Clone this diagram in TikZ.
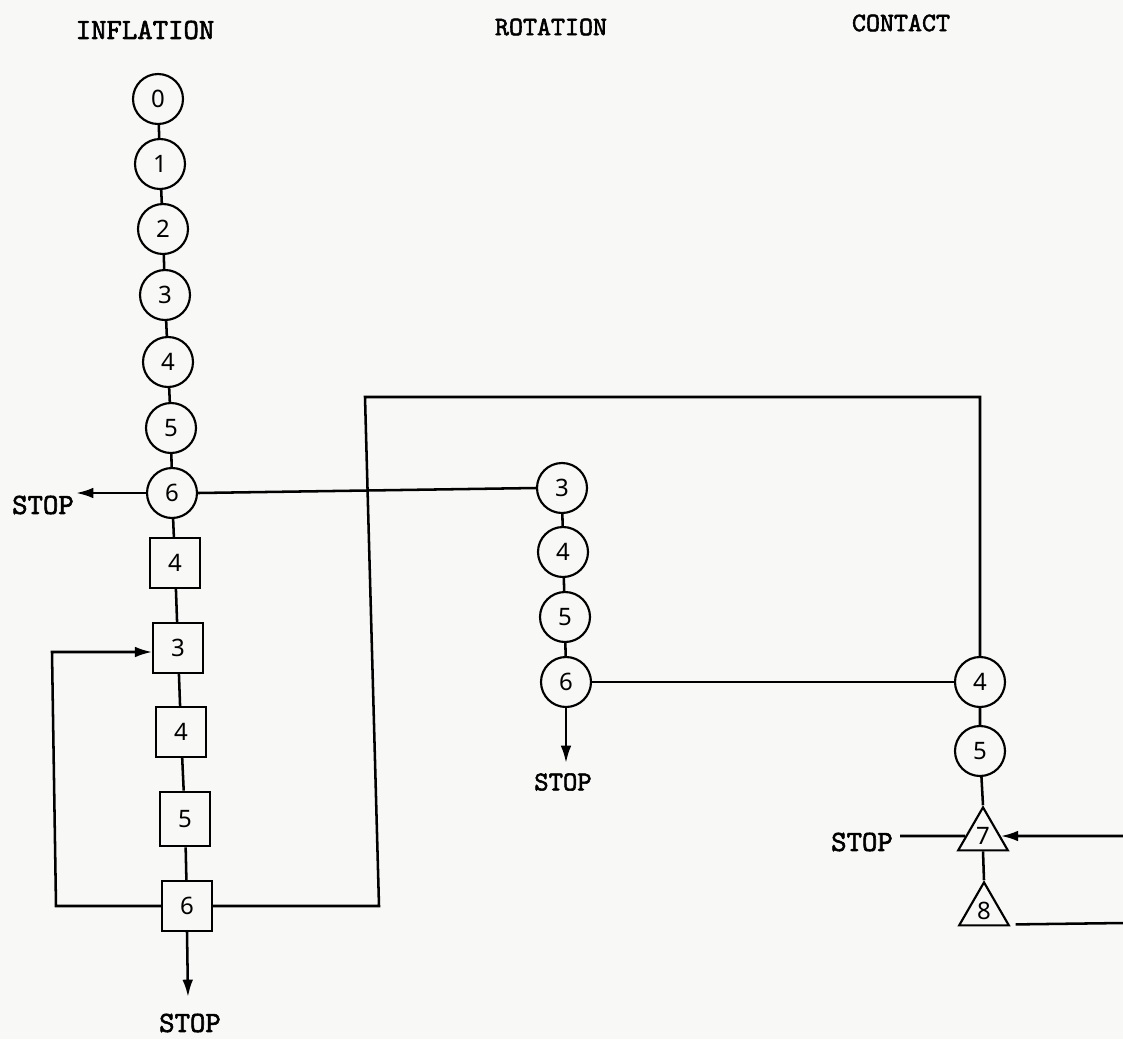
\documentclass[tikz,border=0pt]{standalone}
\usepackage{fontspec}
\newfontfamily\digitfont{Noto Sans}
\newfontfamily\twfont[FakeBold=2]{lmmono10-regular.otf}
\usetikzlibrary{arrows.meta,shapes.geometric}
\definecolor{paper}{RGB}{248,248,246}
\begin{document}
\begin{tikzpicture}[x=0.75pt,y=-0.75pt,
  ln/.style={line width=1.9pt},
  arr/.style={-{Latex[length=13pt,width=8pt]}},
  circ/.style={circle,draw,line width=1.6pt,minimum size=37.5pt,inner sep=0pt,
    font=\digitfont\fontsize{18}{18}\selectfont},
  sq/.style={rectangle,draw,line width=1.6pt,minimum width=37pt,minimum height=37.5pt,inner sep=0pt,
    font=\digitfont\fontsize{18}{18}\selectfont},
  tri/.style={regular polygon,regular polygon sides=3,draw,line width=1.6pt,minimum size=43pt,inner sep=0pt,
    font=\digitfont\fontsize{18}{18}\selectfont},
  lbl/.style={inner sep=0pt,font=\twfont\fontsize{22}{22}\selectfont},
  head/.style={inner sep=0pt,font=\twfont\fontsize{20}{20}\selectfont}
]
\useasboundingbox (0,0) rectangle (1123,1039);
\fill[paper] (0,0) rectangle (1123,1039);

% headings
\node[lbl] (hInf) at (145,30) {INFLATION};
\node[head] (hRot) at (551,27) {ROTATION};
\node[head] (hCon) at (901,23) {CONTACT};

% inflation column
\node[circ] (L0) at (158,99) {0};
\node[circ] (L1) at (160,164) {1};
\node[circ] (L2) at (163,229) {2};
\node[circ] (L3) at (165,295) {3};
\node[circ] (L4) at (168,362) {4};
\node[circ] (L5) at (171,428) {5};
\node[circ] (L6) at (172,493) {6};
\node[sq] (B4a) at (175,563) {4};
\node[sq] (B3) at (178,648) {3};
\node[sq] (B4b) at (181,732) {4};
\node[sq,minimum height=41pt] (B5) at (185,819) {5};
\node[sq] (B6) at (187,906) {6};

\draw[ln] (L0) -- (L1) -- (L2) -- (L3) -- (L4) -- (L5) -- (L6) -- (B4a) -- (B3) -- (B4b) -- (B5) -- (B6);

% rotation column
\node[circ] (R3) at (562,488) {3};
\node[circ] (R4) at (563,552) {4};
\node[circ] (R5) at (565,617) {5};
\node[circ] (R6) at (566,682) {6};
\draw[ln] (R3) -- (R4) -- (R5) -- (R6);

% contact column
\node[circ] (C4) at (980,682) {4};
\node[circ] (C5) at (980,751) {5};
\node[tri] (T7) at (983,836) {7};
\node[tri] (T8) at (984,911) {8};
\draw[ln] (C4) -- (C5) -- (T7.corner 1);
\draw[ln] (T7.south) -- (T8.corner 1);

% STOP labels and free ends
\node[lbl] (sLt) at (43,505) {STOP};
\coordinate (sL) at (76,493);
\node[lbl] (sBt) at (190,1023) {STOP};
\coordinate (sB) at (188,997);
\node[lbl,font=\twfont\fontsize{20.5}{20.5}\selectfont] (sRt) at (563,782) {STOP};
\coordinate (sR) at (566,763);
\node[lbl] (sCt) at (862,842) {STOP};
\coordinate (sC) at (900,836);
\coordinate (e7) at (1123,836);
\coordinate (e8) at (1123,923);

% loop corners
\coordinate (lpA) at (56,906);
\coordinate (lpB) at (52,652);
\coordinate (bA) at (379,906);
\coordinate (bB) at (365,397);
\coordinate (bC) at (980,397);

% connectors
\draw[ln,arr] (L6.west) -- (sL);
\draw[ln] (L6.east) -- (R3.west);
\draw[ln,arr] (B6.west) -- (lpA) -- (lpB) -- (B3.west |- lpB);
\draw[ln,arr] (B6.south) -- (sB);
\draw[ln] (B6.east) -- (bA) -- (bB) -- (bC) -- (C4.north);
\draw[ln,arr] (R6.south) -- (sR);
\draw[ln] (R6.east) -- (C4.west);
\draw[ln] (T7.west) -- (sC);
\draw[ln,arr] (e7) -- (T7.east);
\draw[ln] (e8) -- ([shift={(5,-2)}]T8.corner 3);
\end{tikzpicture}
\end{document}
